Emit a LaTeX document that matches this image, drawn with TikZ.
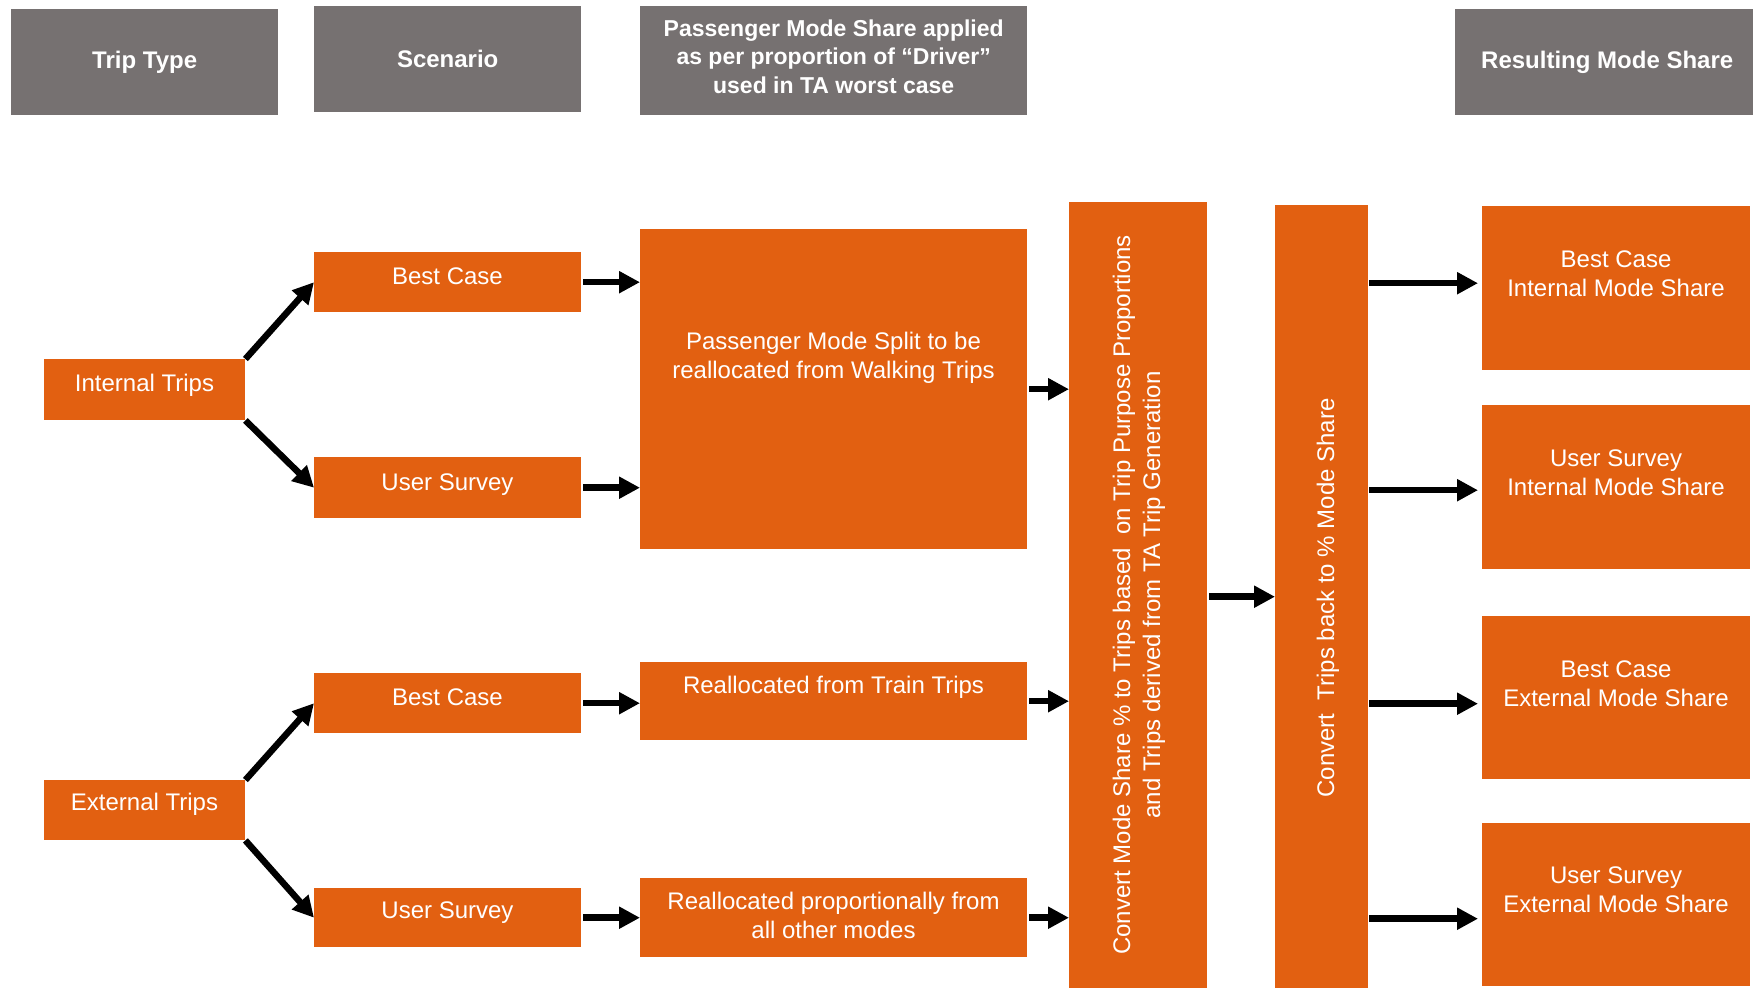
\documentclass[tikz,border=0pt]{standalone}
\usepackage{fontspec}
\setmainfont{Liberation Sans}
\usetikzlibrary{arrows.meta,calc}
\definecolor{org}{RGB}{226,96,17}
\definecolor{hdr}{RGB}{118,113,113}
\begin{document}
\begin{tikzpicture}[x=1pt,y=-1pt,
  font=\fontsize{24}{29}\selectfont,
  obox/.style={fill=org, draw=none, inner sep=0pt, anchor=north west},
  hbox/.style={fill=hdr, draw=none, inner sep=0pt, anchor=north west},
  htxt/.style={text=white, font=\bfseries\fontsize{24}{28.5}\selectfont, align=center, inner sep=0pt},
  txt/.style={text=white, align=center, inner sep=0pt},
  arr/.style={line width=6.5pt, -{Triangle[length=21pt,width=21pt]}}]
\useasboundingbox[fill=white] (0,0) rectangle (1753,988);

% headers
\node[hbox, minimum width=267pt, minimum height=106pt] (tt) at (11,9) {};
\node[hbox, minimum width=267pt, minimum height=106pt] (sc) at (314,6) {};
\node[hbox, minimum width=387pt, minimum height=109pt] (ph) at (640,6) {};
\node[hbox, minimum width=298pt, minimum height=106pt] (rh) at (1455,9) {};
\node[htxt] (ttT) at ($(tt.center)+(0,0)$) {Trip Type};
\node[htxt] (scT) at ($(sc.center)+(0,0)$) {Scenario};
\node[htxt, font=\bfseries\fontsize{23}{28.5}\selectfont] (phT) at ($(ph.center)+(0,-4)$) {Passenger Mode Share applied\\as per proportion of “Driver”\\used in TA worst case};
\node[htxt] (rhT) at ($(rh.center)+(3,0)$) {Resulting Mode Share};

% orange boxes
\node[obox, minimum width=201pt, minimum height=61pt] (it) at (44,359) {};
\node[obox, minimum width=201pt, minimum height=60pt] (et) at (44,780) {};
\node[obox, minimum width=267pt, minimum height=60pt] (bc1) at (314,252) {};
\node[obox, minimum width=267pt, minimum height=61pt] (us1) at (314,457) {};
\node[obox, minimum width=267pt, minimum height=60pt] (bc2) at (314,673) {};
\node[obox, minimum width=267pt, minimum height=59pt] (us2) at (314,888) {};
\node[obox, minimum width=387pt, minimum height=320pt] (pm) at (640,229) {};
\node[obox, minimum width=387pt, minimum height=78pt] (tr) at (640,662) {};
\node[obox, minimum width=387pt, minimum height=79pt] (pr) at (640,878) {};
\node[obox, minimum width=138pt, minimum height=786pt] (c1) at (1069,202) {};
\node[obox, minimum width=93pt, minimum height=783pt] (c2) at (1275,205) {};
\node[obox, minimum width=268pt, minimum height=164pt] (r1) at (1482,206) {};
\node[obox, minimum width=268pt, minimum height=164pt] (r2) at (1482,405) {};
\node[obox, minimum width=268pt, minimum height=163pt] (r3) at (1482,616) {};
\node[obox, minimum width=268pt, minimum height=163pt] (r4) at (1482,823) {};

% texts
\node[txt] (itT) at (144.5,385) {Internal Trips};
\node[txt] (etT) at (144.5,804) {External Trips};
\node[txt] (bc1T) at (447.5,276) {Best Case};
\node[txt] (us1T) at (447.5,485) {User Survey};
\node[txt] (bc2T) at (447.5,697) {Best Case};
\node[txt] (us2T) at (447.5,913) {User Survey};
\node[txt] (pmT) at (833.5,357.5) {Passenger Mode Split to be\\reallocated from Walking Trips};
\node[txt] (trT) at (833.5,687) {Reallocated from Train Trips};
\node[txt] (prT) at (833.5,915.5) {Reallocated proportionally from\\all other modes};
\node[txt, rotate=90, font=\fontsize{24}{30}\selectfont] (c1T) at (1139,595) {Convert Mode Share \% to Trips based\ \ on Trip Purpose Proportions\\and Trips derived from TA Trip Generation};
\node[txt, rotate=90] (c2T) at (1328,598) {Convert\ \ Trips back to \% Mode Share};
\node[txt] (r1T) at (1616,273.5) {Best Case\\Internal Mode Share};
\node[txt] (r2T) at (1616,472.5) {User Survey\\Internal Mode Share};
\node[txt] (r3T) at (1616,684) {Best Case\\External Mode Share};
\node[txt] (r4T) at (1616,890) {User Survey\\External Mode Share};

% arrows
\draw[arr] (it.north east) -- (bc1.west);
\draw[arr] (it.south east) -- (us1.west);
\draw[arr] (et.north east) -- (bc2.west);
\draw[arr] (et.south east) -- (us2.west);
\draw[arr, shorten <=2pt] (bc1.east) -- (bc1.east -| pm.west);
\draw[arr, shorten <=2pt] (us1.east) -- (us1.east -| pm.west);
\draw[arr, shorten <=2pt] (bc2.east) -- (bc2.east -| tr.west);
\draw[arr, shorten <=2pt] (us2.east) -- (us2.east -| pr.west);
\draw[arr, shorten <=2pt] (pm.east) -- (pm.east -| c1.west);
\draw[arr, shorten <=2pt] (tr.east) -- (tr.east -| c1.west);
\draw[arr, shorten <=2pt] (pr.east) -- (pr.east -| c1.west);
\draw[arr, shorten <=2pt] (c2.west -| c1.east) -- (c2.west);
\coordinate (e1) at ($(r1.west)+(0,-5)$);
\coordinate (e2) at ($(r2.west)+(0,3)$);
\coordinate (e3) at ($(r3.west)+(0,6)$);
\coordinate (e4) at ($(r4.west)+(0,14)$);
\draw[arr, shorten <=1pt, shorten >=4pt] (c2.east |- e1) -- (e1);
\draw[arr, shorten <=1pt, shorten >=4pt] (c2.east |- e2) -- (e2);
\draw[arr, shorten <=1pt, shorten >=4pt] (c2.east |- e3) -- (e3);
\draw[arr, shorten <=1pt, shorten >=4pt] (c2.east |- e4) -- (e4);
\end{tikzpicture}
\end{document}
